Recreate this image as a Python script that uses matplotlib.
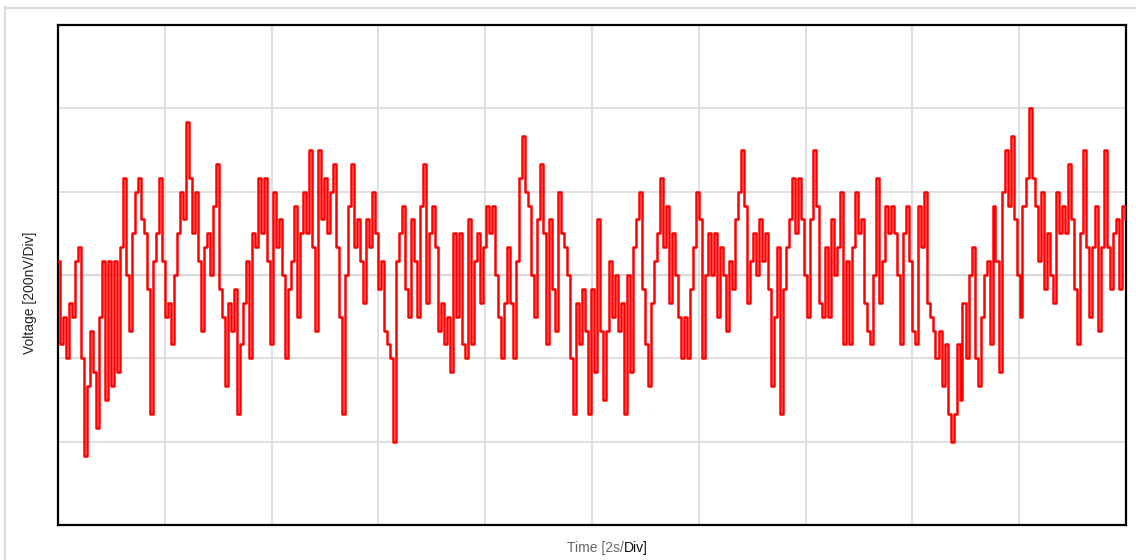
import matplotlib
matplotlib.use("Agg")
import matplotlib.pyplot as plt
from matplotlib.lines import Line2D
import numpy as np

# --- datos ---
# trace en cuentas del ADC (6 cuentas = 1 div = 200 nV)
trace = [
    1, -5, -3, -6, -2, -3, 1, 2, -6, -13,
    -8, -4, -7, -11, -3, 1, -9, 1, -8, 1,
    -7, 2, 7, 0, -4, 3, 6, 7, 4, 3,
    -1, -10, 1, 3, 7, 1, -3, -2, -5, 0,
    3, 6, 4, 11, 7, 3, 6, 1, -4, 2,
    3, 0, 5, 8, -1, -3, -8, -2, -4, -1,
    -10, -5, -2, 1, -6, 3, 2, 7, 3, 7,
    1, -5, 6, 2, 4, 0, -6, -1, 1, 5,
    -3, 3, 6, 3, 9, 2, -4, 9, 4, 7,
    3, 6, 8, 2, -3, -10, 0, 5, 8, 2,
    4, 1, -2, 4, 2, 6, 3, -1, 1, -4,
    -5, -6, -12, 1, 3, 5, -1, -3, 4, 1,
    -3, 5, 8, -2, 3, 5, 2, -4, -2, -5,
    -3, -7, 3, -3, 3, -5, -6, 4, -5, 1,
    3, -2, 2, 5, 3, 5, 0, -3, -6, -2,
    2, -2, -6, 1, 7, 10, 6, 5, 0, -3,
    4, 8, 3, -5, 4, -1, -4, 6, 3, 2,
    0, -6, -10, -2, -5, -1, -4, -10, -1, -7,
    4, -4, -9, -4, 1, -3, 0, -4, -2, -10,
    0, -7, 2, 4, 6, -1, -5, -8, -2, 1,
    3, 7, 2, 5, -2, 3, 0, -3, -6, -3,
    -6, -1, 2, 6, 4, -6, 0, 3, 0, 3,
    -3, 2, 0, -4, 1, -1, 4, 6, 9, 5,
    -2, 1, 3, 0, 4, 1, 3, -1, -8, -3,
    2, -10, -1, 2, 4, 7, 3, 7, 4, 0,
    -3, 4, 9, 5, -2, -3, 2, -3, 4, 0,
    2, 6, -5, 1, -5, 2, 6, 3, 4, -2,
    -4, -5, 0, 7, -2, 1, 5, 3, 5, 3,
    0, -5, 3, 5, 1, -4, -5, 5, 2, 6,
    -2, -3, -4, -6, -4, -8, -5, -10, -12, -10,
    -5, -9, -2, -6, 0, 2, -6, -8, -3, 0,
    1, -5, 5, 1, -7, 6, 9, 5, 10, 4,
    0, -3, 5, 7, 12, 7, 5, 1, 6, -1,
    3, 0, -2, 6, 3, 5, 3, 8, 4, -1,
    -5, 3, 9, 2, -3, 2, 5, -4, 2, 9,
    2, -1, 3, 4, -1, 5, 4,
]

n_div_x = 10
n_div_y = 6
cuentas_div = 6
seg_div = 2

trace = np.array(trace)
t = np.linspace(0, n_div_x * seg_div, len(trace))

# --- figura ---
fig = plt.figure(figsize=(11.36, 5.6), dpi=100)

# marco gris exterior (solo se ve izquierda y arriba)
fig.add_artist(Line2D([4.5 / 1136, 4.5 / 1136], [0, 1 - 7 / 560], color="#dddddd", lw=1.6))
fig.add_artist(Line2D([4.5 / 1136, 1], [1 - 7.5 / 560, 1 - 7.5 / 560], color="#dddddd", lw=1.6))

ax = fig.add_axes([58 / 1136, 35 / 560, 1068 / 1136, 500 / 560])

ymax = n_div_y / 2 * cuentas_div
ax.set_xlim(0, n_div_x * seg_div)
ax.set_ylim(-ymax, ymax)
ax.set_xticks(np.arange(0, n_div_x * seg_div + 1, seg_div))
ax.set_yticks(np.arange(-ymax, ymax + 1, cuentas_div))
ax.tick_params(length=0, labelbottom=False, labelleft=False)
ax.grid(True, color="#dddddd", lw=1.3)
ax.axhline(0, color="#b5b5b5", lw=1.5, zorder=1)

# señal cuantizada: escalones verticales como en el osciloscopio
ax.plot(t, trace, color="#ff0000", lw=1.8, drawstyle="steps-mid", zorder=3)

for s in ax.spines.values():
    s.set_color("black")
    s.set_linewidth(1.6)

# etiquetas
fuente = ["Liberation Sans", "DejaVu Sans"]
ax.set_ylabel("Voltage [200nV/Div]", fontsize=10, color="#222222", family=fuente)
ax.yaxis.set_label_coords(-21 / 1068, 0.465)

# "Time [2s/" en gris y "Div]" en negro, uno al lado del otro
xc = 624 / 1136
yb = 1 - 548 / 560
fig.text(xc, yb, "Time [2s/", ha="right", va="center", fontsize=10,
         color="#666666", family=fuente)
fig.text(xc, yb, "Div]", ha="left", va="center", fontsize=10,
         color="#111111", family=fuente)

fig.savefig("out.png", dpi=100)
